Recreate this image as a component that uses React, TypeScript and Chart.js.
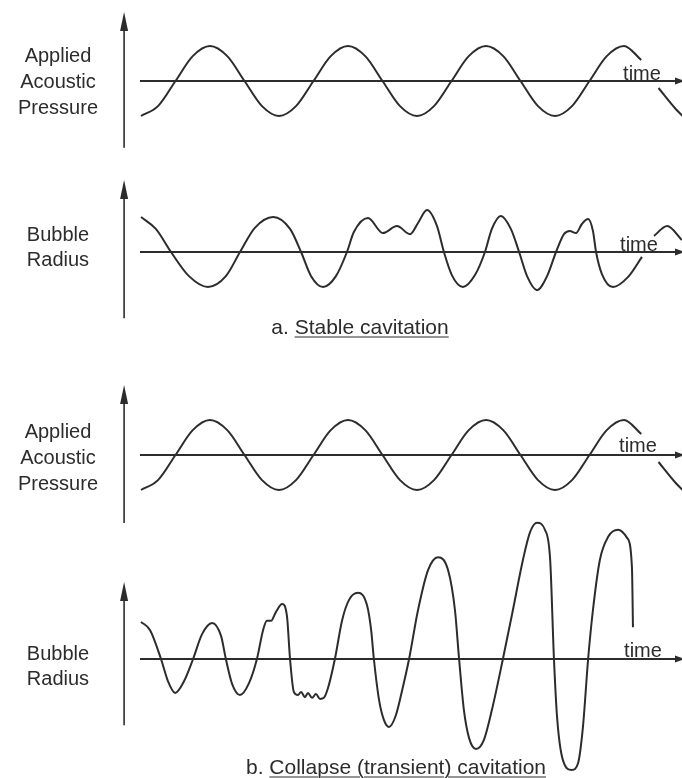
import React, { useEffect, useRef } from "react";
import { Chart, registerables } from "chart.js";

Chart.register(...registerables);

// ---------------- data (time in quarter-periods of the applied pressure, amplitude units) ----------------
const PRESSURE_TIME = [
  0, 0.5, 1, 1.5, 2, 2.5, 3, 3.5,
  4, 4.5, 5, 5.5, 6, 6.5, 7, 7.5,
  8, 8.5, 9, 9.5, 10, 10.5, 11, 11.5,
  12, 12.5, 13, 13.5, 14, 14.5,
  14.75, 15, 15.5, 15.7,
];
const PRESSURE = [
  -1, -0.71, 0, 0.71, 1, 0.71, 0, -0.71,
  -1, -0.71, 0, 0.71, 1, 0.71, 0, -0.71,
  -1, -0.71, 0, 0.71, 1, 0.71, 0, -0.71,
  -1, -0.71, 0, 0.71, 1, 0.6,
  null, -0.2, -0.8, -1.0,
];

const STABLE_TIME = [
  0, 0.43, 0.87, 1.39, 1.94, 2.46, 2.87, 3.3, 3.83, 4.32,
  4.64, 4.93, 5.28, 5.65, 5.97, 6.17, 6.58, 7.01, 7.42, 7.8,
  8.03, 8.29, 8.58, 8.78, 9.01, 9.33, 9.68, 9.97, 10.17, 10.43,
  10.72, 10.96, 11.19, 11.48, 11.77, 12.03, 12.26, 12.43, 12.61, 12.78,
  12.96, 13.1, 13.19, 13.36, 13.68, 14.12, 14.52, 14.7, 14.87, 15.25, 15.68,
];
const STABLE_RADIUS = [
  1.0, 0.66, 0, -0.69, -1.0, -0.69, 0, 0.69, 1.0, 0.66,
  0, -0.69, -1.0, -0.69, 0, 0.57, 0.97, 0.54, 0.74, 0.51,
  0.83, 1.2, 0.74, 0, -0.66, -1.0, -0.66, 0, 0.66, 1.03,
  0.66, 0, -0.69, -1.09, -0.69, 0, 0.51, 0.6, 0.54, 0.8,
  0.94, 0.6, 0, -0.63, -1.0, -0.71, -0.14, null, 0.46, 0.74, 0.34,
];

const TRANSIENT_TIME = [
  0, 0.26, 0.58, 0.78, 0.99, 1.25, 1.51, 1.77, 2.06, 2.32,
  2.46, 2.64, 2.87, 3.13, 3.36, 3.54, 3.65, 3.77, 3.91, 4.09,
  4.23, 4.32, 4.43, 4.55, 4.64, 4.75, 4.84, 4.96, 5.07, 5.19,
  5.3, 5.42, 5.62, 5.83, 6.03, 6.29, 6.55, 6.67, 6.75, 6.9,
  7.04, 7.19, 7.39, 7.57, 7.77, 8.03, 8.32, 8.61, 8.9, 9.1,
  9.22, 9.36, 9.51, 9.71, 9.94, 10.17, 10.49, 10.78, 11.07, 11.28,
  11.48, 11.71, 11.86, 11.97, 12.06, 12.23, 12.49, 12.67, 12.81, 12.96,
  13.1, 13.3, 13.54, 13.83, 14.09, 14.23, 14.26,
];
const TRANSIENT_RADIUS = [
  1.06, 0.83, 0, -0.63, -0.97, -0.63, 0, 0.71, 1.03, 0.66,
  0, -0.71, -1.03, -0.69, 0, 0.83, 1.09, 1.09, 1.34, 1.57,
  1.23, 0, -0.94, -1.03, -0.94, -1.09, -0.97, -1.11, -1.0, -1.14,
  -1.11, -0.83, 0, 1.11, 1.69, 1.89, 1.54, 0.83, 0, -1.17,
  -1.74, -1.94, -1.6, -0.89, 0, 1.4, 2.54, 2.91, 2.54, 1.4,
  0, -1.46, -2.26, -2.57, -2.31, -1.46, 0, 1.4, 2.83, 3.63,
  3.89, 3.69, 2.83, 0, -1.66, -2.89, -3.17, -2.97, -1.94, 0,
  1.4, 2.83, 3.49, 3.69, 3.46, 2.63, 0.91,
];

const PRESSURE_LABEL = ["Applied", "Acoustic", "Pressure"];
const RADIUS_LABEL = ["Bubble", "Radius"];
const TIME_LABEL = "time";
const CAPTION_A = ["a.", "Stable cavitation"];
const CAPTION_B = ["b.", "Collapse (transient) cavitation"];

// ---------------- layout ----------------
const W = 682;
const H = 778;
const T0_PX = 141; // where time 0 sits
const PX_PER_T = 34.5;
const UNIT_PX = 35;
const AXIS_T = -0.49; // vertical arrow position (time units)
const BASE_T0 = -0.03;

const PANELS = [
  { id: "y1", base: 81, axisTop: 1.97, axisBottom: -1.91 },
  { id: "y2", base: 252, axisTop: 2.06, axisBottom: -1.89 },
  { id: "y3", base: 455, axisTop: 2.0, axisBottom: -1.94 },
  { id: "y4", base: 659, axisTop: 2.2, axisBottom: -1.89 },
];

const INK = "#2c2c2c";
const FONT = '"Liberation Sans", Arial, Helvetica, sans-serif';

const toPoints = (t: number[], v: (number | null)[]) => t.map((x, i) => ({ x, y: v[i] }));

const axesPlugin = {
  id: "diagramAxes",
  beforeDatasetsDraw(chart: any) {
    const ctx = chart.ctx;
    const xs = chart.scales.x;
    ctx.save();
    ctx.strokeStyle = INK;
    ctx.fillStyle = INK;
    for (const p of PANELS) {
      const ys = chart.scales[p.id];
      const ax = xs.getPixelForValue(AXIS_T);
      const top = ys.getPixelForValue(p.axisTop);
      const bot = ys.getPixelForValue(p.axisBottom);
      ctx.lineWidth = 1.6;
      ctx.beginPath();
      ctx.moveTo(ax, bot);
      ctx.lineTo(ax, top + 12);
      ctx.stroke();
      ctx.beginPath();
      ctx.moveTo(ax, top);
      ctx.lineTo(ax - 4, top + 19);
      ctx.lineTo(ax + 4, top + 19);
      ctx.closePath();
      ctx.fill();

      const y0 = ys.getPixelForValue(0);
      const x0 = xs.getPixelForValue(BASE_T0);
      const x1 = chart.chartArea.right;
      ctx.lineWidth = 2;
      ctx.beginPath();
      ctx.moveTo(x0, y0);
      ctx.lineTo(x1, y0);
      ctx.stroke();
      ctx.beginPath();
      ctx.moveTo(x1 + 3, y0);
      ctx.lineTo(x1 - 7, y0 - 3.5);
      ctx.lineTo(x1 - 7, y0 + 3.5);
      ctx.closePath();
      ctx.fill();
    }
    ctx.restore();
  },
};

const curve = (data: any, yAxisID: string) => ({
  data,
  yAxisID,
  xAxisID: "x",
  borderColor: INK,
  borderWidth: 2,
  pointRadius: 0,
  fill: false,
  spanGaps: false,
  cubicInterpolationMode: "monotone" as const,
});

export default function App() {
  const ref = useRef<HTMLCanvasElement>(null);

  useEffect(() => {
    const yScales: any = {};
    for (const p of PANELS) {
      yScales[p.id] = {
        type: "linear",
        display: false,
        min: -(H - p.base) / UNIT_PX,
        max: p.base / UNIT_PX,
      };
    }
    const chart = new Chart(ref.current as HTMLCanvasElement, {
      type: "line",
      data: {
        datasets: [
          curve(toPoints(PRESSURE_TIME, PRESSURE), "y1"),
          curve(toPoints(STABLE_TIME, STABLE_RADIUS), "y2"),
          curve(toPoints(PRESSURE_TIME, PRESSURE), "y3"),
          curve(toPoints(TRANSIENT_TIME, TRANSIENT_RADIUS), "y4"),
        ],
      },
      options: {
        animation: false,
        responsive: false,
        maintainAspectRatio: false,
        events: [],
        layout: { padding: 0, autoPadding: false },
        plugins: { legend: { display: false }, tooltip: { enabled: false } },
        scales: {
          x: {
            type: "linear",
            display: false,
            min: -T0_PX / PX_PER_T,
            max: (W - T0_PX) / PX_PER_T,
          },
          ...yScales,
        },
      },
      plugins: [axesPlugin],
    });
    return () => chart.destroy();
  }, []);

  const text = (cx: number, cy: number, size: number, lh: number, lines: string[], key: string) => (
    <div
      key={key}
      style={{
        position: "absolute",
        left: cx,
        top: cy,
        transform: "translate(-50%, -50%)",
        fontSize: size,
        lineHeight: `${lh}px`,
        textAlign: "center",
        whiteSpace: "nowrap",
      }}
    >
      {lines.map((l, i) => (
        <div key={i}>{l}</div>
      ))}
    </div>
  );

  const caption = (cx: number, cy: number, parts: string[]) => (
    <div
      style={{
        position: "absolute",
        left: cx,
        top: cy,
        transform: "translate(-50%, -50%)",
        fontSize: 21,
        lineHeight: "21px",
        whiteSpace: "nowrap",
      }}
    >
      {parts[0]}{" "}
      <span style={{ textDecoration: "underline", textDecorationThickness: "1px", textUnderlineOffset: "3px" }}>
        {parts[1]}
      </span>
    </div>
  );

  return (
    <div
      style={{
        position: "absolute",
        left: 0,
        top: 0,
        width: W,
        height: H,
        background: "#fff",
        color: INK,
        fontFamily: FONT,
        overflow: "hidden",
      }}
    >
      <canvas ref={ref} width={W} height={H} style={{ position: "absolute", left: 0, top: 0, width: W, height: H }} />
      {text(58, 81, 20, 26, PRESSURE_LABEL, "l1")}
      {text(58, 247, 20, 25, RADIUS_LABEL, "l2")}
      {text(58, 457, 20, 26, PRESSURE_LABEL, "l3")}
      {text(58, 666, 20, 25, RADIUS_LABEL, "l4")}
      {text(642, 73, 20, 20, [TIME_LABEL], "t1")}
      {text(639, 244, 20, 20, [TIME_LABEL], "t2")}
      {text(638, 445, 20, 20, [TIME_LABEL], "t3")}
      {text(643, 650, 20, 20, [TIME_LABEL], "t4")}
      {caption(360, 326, CAPTION_A)}
      {caption(396, 766, CAPTION_B)}
    </div>
  );
}
